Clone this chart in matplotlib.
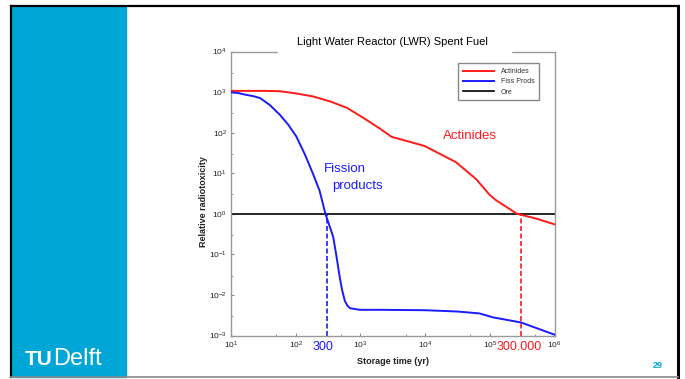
import matplotlib as mpl
mpl.use("Agg")
import matplotlib.pyplot as plt
from matplotlib.patches import Rectangle
from matplotlib.lines import Line2D
from matplotlib.ticker import LogLocator, NullFormatter

plt.rcParams['font.family'] = ['Liberation Sans', 'DejaVu Sans']
plt.rcParams['axes.unicode_minus'] = False

# storage time (yr) and relative radiotoxicity
act_t = [10, 18, 32, 57, 100, 186, 339, 617, 1100, 2000, 3020, 9800, 30200, 61700, 100000, 126000, 263000, 525000, 1000000]
act_y = [1070, 1070, 1070, 1050, 930, 780, 590, 410, 234, 126, 79, 47, 18.6, 7.1, 2.9, 2.14, 1.0, 0.76, 0.55]

fp_t = [10, 12.6, 17.4, 22.4, 28.2, 39.8, 57, 76, 102, 138, 186, 234, 270, 288, 380, 427, 479, 525, 575, 631, 692, 977,
        2000, 10000, 31600, 69200, 112000, 302000, 1000000]
fp_y = [980, 955, 850, 790, 710, 480, 275, 160, 81, 29.5, 9.5, 3.7, 1.5, 1.0, 0.27, 0.089, 0.0275, 0.0126, 0.0071,
        0.0054, 0.0047, 0.0043, 0.0043, 0.0042, 0.0039, 0.0035, 0.0028, 0.0021, 0.00105]

ore_level = 1.0
cross_fp = 300
cross_act = 300000

blue_tud = '#00A6D6'
red = '#ff1a1a'
blue = '#1a1aff'

fig = plt.figure(figsize=(6.85, 3.79), dpi=100)
W, H = 685.0, 379.0
def fx(x): return x / W
def fy(y): return 1 - y / H

# slide background
fig.add_artist(Rectangle((fx(12), fy(377)), (126 - 12) / W, (377 - 7) / H,
                         transform=fig.transFigure, color=blue_tud, zorder=0))
fig.add_artist(Line2D([fx(11), fx(677.5)], [fy(6), fy(6)], transform=fig.transFigure, color='black', lw=1.6))
fig.add_artist(Line2D([fx(11), fx(11)], [fy(6), fy(377)], transform=fig.transFigure, color='black', lw=1.6))
fig.add_artist(Line2D([fx(677.5), fx(677.5)], [fy(6), fy(377)], transform=fig.transFigure, color='black', lw=2.2))
fig.add_artist(Line2D([fx(11), fx(677.5)], [fy(377), fy(377)], transform=fig.transFigure, color='#888888', lw=1.2))

fig.text(fx(25), fy(365), 'TU', color='white', fontsize=15, fontweight='bold', va='baseline')
fig.text(fx(53), fy(365), 'Delft', color='white', fontsize=17, va='baseline')
fig.text(fx(658), fy(365), '29', color=blue_tud, fontsize=6.5, fontweight='bold', ha='center', va='center')

ax = fig.add_axes([fx(231), fy(335.5), (554.5 - 231) / W, (335.5 - 51.5) / H])
ax.set_xscale('log')
ax.set_yscale('log')
ax.set_xlim(10, 1e6)
ax.set_ylim(1e-3, 1e4)

ax.plot(act_t, act_y, color=red, lw=1.4, label='Actinides', zorder=3)
ax.plot(fp_t, fp_y, color=blue, lw=1.4, label='Fiss Prods', zorder=3)
ax.axhline(ore_level, color='black', lw=1.2, label='Ore', zorder=2)

ax.vlines(cross_fp, 1e-3, ore_level, colors=blue, linestyles=(0, (3, 1.5)), lw=1.2, zorder=2)
ax.vlines(cross_act, 1e-3, ore_level, colors=red, linestyles=(0, (3, 1.5)), lw=1.2, zorder=2)

ax.text(10**4.69, 81, 'Actinides', color=red, fontsize=9.5, ha='center', va='center')
ax.text(272, 12.9, 'Fission', color=blue, fontsize=9.5, ha='left', va='center')
ax.text(372, 4.96, 'products', color=blue, fontsize=9.5, ha='left', va='center')
ax.text(0.284, -0.039, '300', color=blue, fontsize=9, ha='center', va='center', transform=ax.transAxes)
ax.text(0.892, -0.039, '300.000', color=red, fontsize=9, ha='center', va='center', transform=ax.transAxes)

ax.set_title('Light Water Reactor (LWR) Spent Fuel', fontsize=8, pad=5)
ax.set_xlabel('Storage time (yr)', fontsize=6.5, fontweight='bold', color='#222222', va='center')
ax.set_ylabel('Relative radiotoxicity', fontsize=6.5, fontweight='bold', color='#222222', va='center')
ax.xaxis.set_label_coords(0.5, -0.093)
ax.yaxis.set_label_coords(-0.085, 0.47)

for s in ax.spines.values():
    s.set_color('#999999')
    s.set_linewidth(1.0)
# gap in the top frame behind the title
ax.add_patch(Rectangle((0.145, 0.985), 0.722, 0.03, transform=ax.transAxes,
                       color='white', clip_on=False, zorder=5))

ax.xaxis.set_major_locator(LogLocator(base=10, numticks=10))
ax.yaxis.set_major_locator(LogLocator(base=10, numticks=10))
ax.xaxis.set_minor_locator(LogLocator(base=10, subs=(5,), numticks=10))
ax.yaxis.set_minor_locator(LogLocator(base=10, subs=(3,), numticks=10))
ax.xaxis.set_minor_formatter(NullFormatter())
ax.yaxis.set_minor_formatter(NullFormatter())
ax.tick_params(which='both', direction='in', color='#888888', labelsize=6, labelcolor='#222222')
ax.tick_params(which='major', length=2.5, pad=3)
ax.tick_params(which='minor', length=1.5)

leg = ax.legend(loc='upper right', bbox_to_anchor=(0.952, 0.958), fontsize=5,
                handlelength=4.6, handletextpad=0.9, fancybox=False, framealpha=1,
                edgecolor='#888888', borderpad=0.65, labelspacing=0.5, borderaxespad=0)
leg.get_frame().set_linewidth(1.0)
for t in leg.get_texts():
    t.set_color('#333333')

fig.savefig('out.png', dpi=100)
